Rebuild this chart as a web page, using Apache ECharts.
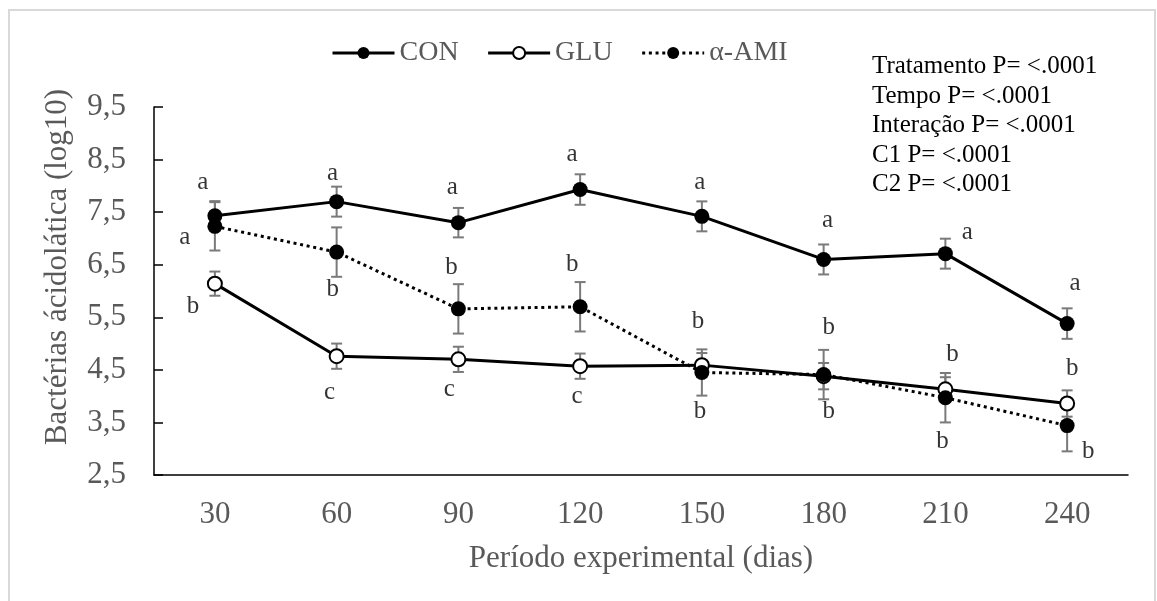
<!DOCTYPE html>
<html>
<head>
<meta charset="utf-8">
<script src="https://cdn.jsdelivr.net/npm/echarts@6/dist/echarts.min.js"></script>
<style>
html,body{margin:0;padding:0;background:#fff;}
#chart{width:1157px;height:601px;}
</style>
</head>
<body>
<div id="chart"></div>
<script>
// ---- data ----
const categories = ['30', '60', '90', '120', '150', '180', '210', '240'];
const seriesNames = ['CON', 'GLU', 'α-AMI'];
const conValues = [7.43, 7.70, 7.30, 7.93, 7.42, 6.60, 6.71, 5.38];
const gluValues = [6.14, 4.76, 4.70, 4.57, 4.59, 4.38, 4.13, 3.86];
const amiValues = [7.23, 6.74, 5.66, 5.70, 4.45, 4.41, 3.97, 3.44];
const conErr = [0.28, 0.285, 0.28, 0.29, 0.285, 0.285, 0.285, 0.29];
const gluErr = [0.23, 0.24, 0.24, 0.24, 0.23, 0.25, 0.23, 0.25];
const amiErr = [0.46, 0.47, 0.47, 0.47, 0.44, 0.47, 0.47, 0.49];
const conLetters = ['a', 'a', 'a', 'a', 'a', 'a', 'a', 'a'];
const gluLetters = ['b', 'c', 'c', 'c', 'b', 'b', 'b', 'b'];
const amiLetters = ['a', 'b', 'b', 'b', 'b', 'b', 'b', 'b'];
const yTicks = { min: 2.5, max: 9.5, interval: 1 };
const xTitle = 'Período experimental (dias)';
const yTitle = 'Bactérias ácidolática (log10)';
const statsLines = ['Tratamento P= <.0001', 'Tempo P= <.0001', 'Interação P= <.0001', 'C1 P= <.0001', 'C2 P= <.0001'];

// ---- layout / style (pixel offsets of letter labels relative to points) ----
const conLabelOffsets = [[-12, -33], [-4, -28], [-6, -35], [-8, -35], [-2, -34], [4, -39], [22, -21], [8, -40]];
const gluLabelOffsets = [[-22, 23], [-7, 36], [-9, 30], [-3, 30], [-4, -44], [5, -49], [7, -35], [5, -35]];
const amiLabelOffsets = [[-30, 11], [-4, 37], [-7, -41], [-8, -42], [-2, 39], [5, 37], [-3, 44], [21, 26]];

const FONT = "'Liberation Serif', 'Times New Roman', serif";
const GRID = { left: 154, right: 29, top: 107, bottom: 126 };

function errSeries(values, errs) {
  return {
    type: 'custom',
    z: 1,
    silent: true,
    data: values.map((v, i) => [i, v, errs[i]]),
    encode: { x: 0, y: 1 },
    renderItem: function (params, api) {
      const x = api.value(0), v = api.value(1), e = api.value(2);
      const top = api.coord([x, v + e]);
      const bot = api.coord([x, v - e]);
      const hw = 5.5;
      const st = { stroke: '#7a7a7a', lineWidth: 2 };
      return {
        type: 'group',
        children: [
          { type: 'line', shape: { x1: top[0], y1: top[1], x2: bot[0], y2: bot[1] }, style: st },
          { type: 'line', shape: { x1: top[0] - hw, y1: top[1], x2: top[0] + hw, y2: top[1] }, style: st },
          { type: 'line', shape: { x1: bot[0] - hw, y1: bot[1], x2: bot[0] + hw, y2: bot[1] }, style: st }
        ]
      };
    }
  };
}

function letterSeries(values, letters, offsets) {
  return {
    type: 'scatter',
    z: 5,
    silent: true,
    symbolSize: 0,
    data: values.map((v, i) => ({
      value: [i, v],
      label: { offset: offsets[i], formatter: letters[i] }
    })),
    label: {
      show: true,
      position: 'inside',
      color: '#000',
      fontFamily: FONT,
      fontSize: 25
    }
  };
}

const chart = echarts.init(document.getElementById('chart'), null, { renderer: 'canvas' });

const option = {
  backgroundColor: '#fff',
  animation: false,
  textStyle: { fontFamily: FONT },
  legend: {
    data: seriesNames,
    left: 326,
    top: 34,
    itemWidth: 62,
    itemHeight: 15,
    itemGap: 28,
    lineStyle: { width: 3 },
    textStyle: { fontSize: 28, color: '#595959', fontFamily: FONT }
  },
  grid: [
    Object.assign({}, GRID),
    Object.assign({}, GRID)
  ],
  xAxis: [
    {
      type: 'category',
      gridIndex: 0,
      data: categories,
      boundaryGap: true,
      axisLine: { lineStyle: { color: '#000', width: 1.5 } },
      axisTick: { inside: true, length: 9, lineStyle: { color: '#000', width: 1.5 } },
      axisLabel: { fontSize: 31, color: '#595959', fontFamily: FONT, margin: 24 },
      name: xTitle,
      nameLocation: 'middle',
      nameGap: 68,
      nameTextStyle: { fontSize: 31, color: '#595959', fontFamily: FONT }
    },
    {
      type: 'category',
      gridIndex: 1,
      data: categories,
      boundaryGap: true,
      axisLine: { show: false },
      axisTick: { inside: true, alignWithLabel: true, length: 7, lineStyle: { color: '#000', width: 1.5 } },
      axisLabel: { show: false }
    }
  ],
  yAxis: [
    {
      type: 'value',
      gridIndex: 0,
      min: yTicks.min,
      max: yTicks.max,
      interval: yTicks.interval,
      axisLine: { show: true, lineStyle: { color: '#000', width: 1.5 } },
      axisTick: { show: true, inside: true, length: 9, lineStyle: { color: '#000', width: 1.5 } },
      splitLine: { show: false },
      axisLabel: {
        fontSize: 31, color: '#595959', fontFamily: FONT, margin: 28,
        formatter: v => v.toFixed(1).replace('.', ',')
      }
    },
    {
      type: 'value',
      gridIndex: 1,
      min: yTicks.min,
      max: yTicks.max,
      interval: yTicks.interval,
      show: false
    }
  ],
  graphic: [
    {
      type: 'rect',
      silent: true,
      shape: { x: 9, y: 10, width: 1146, height: 620 },
      style: { fill: 'none', stroke: '#d9d9d9', lineWidth: 2 },
      z: 0
    },
    {
      type: 'text',
      x: 58,
      y: 267,
      rotation: Math.PI / 2,
      style: {
        text: yTitle, fill: '#595959', font: "31px 'Liberation Serif'",
        align: 'center', verticalAlign: 'middle'
      }
    },
    {
      type: 'text',
      x: 872,
      y: 52,
      style: {
        text: statsLines.join('\n'), fill: '#000', font: "25px 'Liberation Serif'",
        lineHeight: 29.5, align: 'left', verticalAlign: 'top'
      }
    }
  ],
  series: [
    errSeries(conValues, conErr),
    errSeries(gluValues, gluErr),
    errSeries(amiValues, amiErr),
    {
      name: 'CON',
      type: 'line',
      z: 2,
      data: conValues,
      symbol: 'circle',
      symbolSize: 15,
      itemStyle: { color: '#000' },
      lineStyle: { color: '#000', width: 3 }
    },
    {
      name: 'GLU',
      type: 'line',
      z: 3,
      data: gluValues,
      symbol: 'emptyCircle',
      symbolSize: 14,
      itemStyle: { color: '#000', borderWidth: 2 },
      lineStyle: { color: '#000', width: 3 }
    },
    {
      name: 'α-AMI',
      type: 'line',
      z: 4,
      data: amiValues,
      symbol: 'circle',
      symbolSize: 15,
      itemStyle: { color: '#000' },
      lineStyle: { color: '#000', width: 3, type: [3, 3.7] }
    },
    letterSeries(conValues, conLetters, conLabelOffsets),
    letterSeries(gluValues, gluLetters, gluLabelOffsets),
    letterSeries(amiValues, amiLetters, amiLabelOffsets)
  ]
};
chart.setOption(option);
</script>
</body>
</html>
